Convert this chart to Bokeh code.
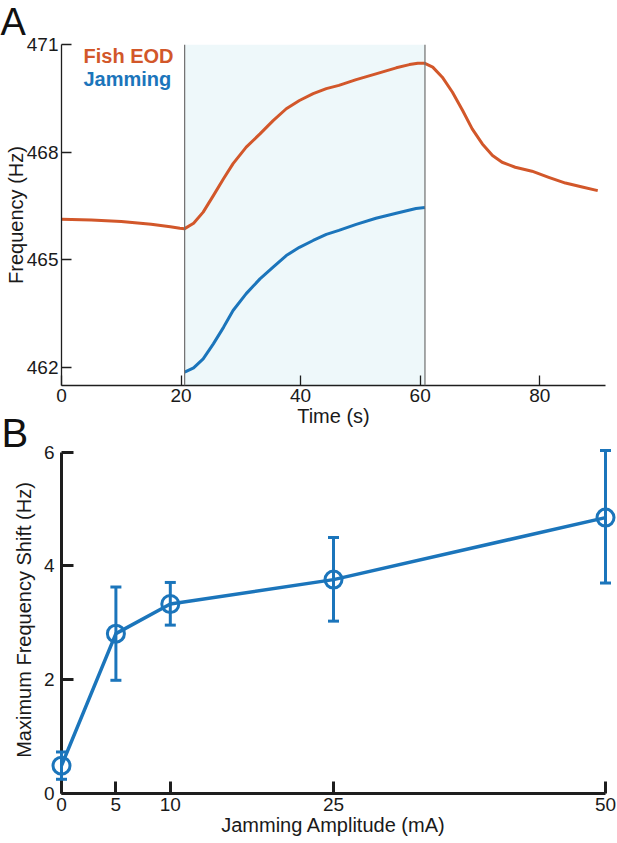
from bokeh.plotting import figure
from bokeh.models import ColumnDataSource, Span, BoxAnnotation
from bokeh.core.properties import value
from bokeh.layouts import column
from bokeh.embed import file_html
from bokeh.resources import INLINE

# ---------------- data ----------------
# Panel A: frequency traces
eod_time = [0, 5, 10, 15, 18.2, 19.8, 20.6, 22.1, 23.7, 25.4, 27.1, 28.7, 30.9, 33.2,
            35.4, 37.6, 39.8, 42.1, 44.3, 46.4, 49.3, 52.6, 56.0, 58.2, 59.6, 60.7,
            62.1, 63.7, 65.4, 67.1, 68.7, 70.4, 72.1, 73.7, 75.9, 78.7, 81.5, 84.3,
            87.1, 89.7]
eod_freq = [466.13, 466.11, 466.07, 465.99, 465.92, 465.88, 465.87, 466.02, 466.33,
            466.79, 467.26, 467.68, 468.14, 468.51, 468.88, 469.21, 469.44, 469.63,
            469.77, 469.86, 470.02, 470.18, 470.35, 470.44, 470.48, 470.48, 470.37,
            470.09, 469.67, 469.16, 468.65, 468.23, 467.91, 467.72, 467.58, 467.47,
            467.30, 467.14, 467.03, 466.93]
jam_time = [20.6, 22.1, 23.7, 25.4, 27.1, 28.7, 30.9, 33.2, 35.4, 37.6, 39.8, 42.1,
            44.3, 46.4, 49.3, 52.6, 56.0, 59.3, 60.8]
jam_freq = [461.87, 461.99, 462.24, 462.66, 463.12, 463.59, 464.06, 464.47, 464.80,
            465.12, 465.35, 465.54, 465.71, 465.82, 465.99, 466.16, 466.30, 466.43,
            466.46]
jam_on = 20.6
jam_off = 60.8
a_xticks = [0, 20, 40, 60, 80]
a_yticks = [462, 465, 468, 471]
legend_names = ["Fish EOD", "Jamming"]

# Panel B: maximum frequency shift vs jamming amplitude
amp = [0, 5, 10, 25, 50]
shift = [0.49, 2.81, 3.33, 3.76, 4.85]
shift_upper = [0.73, 3.63, 3.71, 4.50, 6.03]
shift_lower = [0.25, 1.99, 2.96, 3.03, 3.70]
b_xticks = [0, 5, 10, 25, 50]
b_yticks = [0, 2, 4, 6]

# ---------------- style ----------------
FONT = "Liberation Sans"
ORANGE = "#d2572a"
BLUE = "#1b75bb"
SHADE = "#eef8fa"
AXIS = "#1e1e1e"


def style_axis(ax, lw, tick_in, standoff, label_standoff, tick_size="19px"):
    ax.axis_line_width = lw
    ax.axis_line_color = AXIS
    ax.major_tick_line_width = lw
    ax.major_tick_line_color = AXIS
    ax.major_tick_in = tick_in
    ax.major_tick_out = 0
    ax.minor_tick_line_color = None
    ax.major_label_text_font = FONT
    ax.major_label_text_font_size = tick_size
    ax.major_label_text_color = "#1a1a1a"
    ax.major_label_standoff = standoff
    ax.axis_label_text_font = FONT
    ax.axis_label_text_font_size = "20px"
    ax.axis_label_text_font_style = "normal"
    ax.axis_label_text_color = "#1a1a1a"
    ax.axis_label_standoff = label_standoff


def corner_text(p, x, y, txt, dx, dy, size, color, style="normal"):
    # text anchored at an axes corner, shifted by a number of pixels
    r = p.text(x=[x], y=[y], text=[txt],
               x_offset=dx, y_offset=dy, text_font=value(FONT),
               text_font_size=value(size), text_font_style=value(style),
               text_color=color, text_align="left", text_baseline="alphabetic")
    r.level = "overlay"
    return r


# ---------------- panel A ----------------
pA = figure(width=617, height=432, x_range=(0, 91), y_range=(461.5, 471),
            output_backend="svg", toolbar_location=None,
            min_border_left=61, min_border_right=10, min_border_top=44, min_border_bottom=47,
            x_axis_label="Time (s)", y_axis_label="Frequency (Hz)")
pA.grid.visible = False
pA.outline_line_color = None

pA.add_layout(BoxAnnotation(left=jam_on, right=jam_off, fill_color=SHADE, fill_alpha=1.0,
                            line_color=None, level="underlay"))
for loc in (jam_on, jam_off):
    pA.add_layout(Span(location=loc, dimension="height", line_color="#6e6e6e", line_width=1.2))

pA.line(eod_time, eod_freq, line_color=ORANGE, line_width=3, line_join="round")
pA.line(jam_time, jam_freq, line_color=BLUE, line_width=3, line_join="round")

style_axis(pA.xaxis[0], 1.3, 10, 3, 0)
style_axis(pA.yaxis[0], 1.3, 10, 3, -3)
pA.xaxis.ticker = a_xticks
pA.yaxis.ticker = a_yticks

a_x0, a_y1 = pA.x_range.start, pA.y_range.end
corner_text(pA, a_x0, a_y1, "A", -61, -23, "38px", "#111111")
corner_text(pA, a_x0, a_y1, legend_names[0], 22, 11, "20px", ORANGE, "bold")
corner_text(pA, a_x0, a_y1, legend_names[1], 22, 34, "20px", BLUE, "bold")

# ---------------- panel B ----------------
pB = figure(width=617, height=443, x_range=(0, 50), y_range=(0, 6.1),
            output_backend="svg", toolbar_location=None,
            min_border_left=60, min_border_right=12, min_border_top=48, min_border_bottom=48,
            x_axis_label="Jamming Amplitude (mA)", y_axis_label="Maximum Frequency Shift (Hz)")
pB.margin = (-34, 0, 0, 0)
pB.border_fill_alpha = 0
pB.grid.visible = False
pB.outline_line_color = None

src = ColumnDataSource(dict(amp=amp, shift=shift, upper=shift_upper, lower=shift_lower))
bars = pB.segment(x0="amp", y0="lower", x1="amp", y1="upper", source=src,
                  line_color=BLUE, line_width=3)
cap_hi = pB.scatter("amp", "upper", source=src, marker="dash", size=11,
                    line_color=BLUE, line_width=3)
cap_lo = pB.scatter("amp", "lower", source=src, marker="dash", size=11,
                    line_color=BLUE, line_width=3)
conn = pB.line("amp", "shift", source=src, line_color=BLUE, line_width=3.5, line_join="round")
dots = pB.scatter("amp", "shift", source=src, marker="circle", size=17, fill_color=None,
                  line_color=BLUE, line_width=3)
for r in (bars, cap_hi, cap_lo, conn, dots):
    r.level = "overlay"

style_axis(pB.xaxis[0], 3, 12, 4, 0)
style_axis(pB.yaxis[0], 3, 12, 7, 6)
pB.xaxis.ticker = b_xticks
pB.yaxis.ticker = b_yticks
pB.yaxis.bounds = (0, 6)

corner_text(pB, pB.x_range.start, b_yticks[-1], "B", -60, -19, "40px", "#111111")

layout = column(pA, pB)
open("out.html", "w").write(file_html(layout, INLINE))
